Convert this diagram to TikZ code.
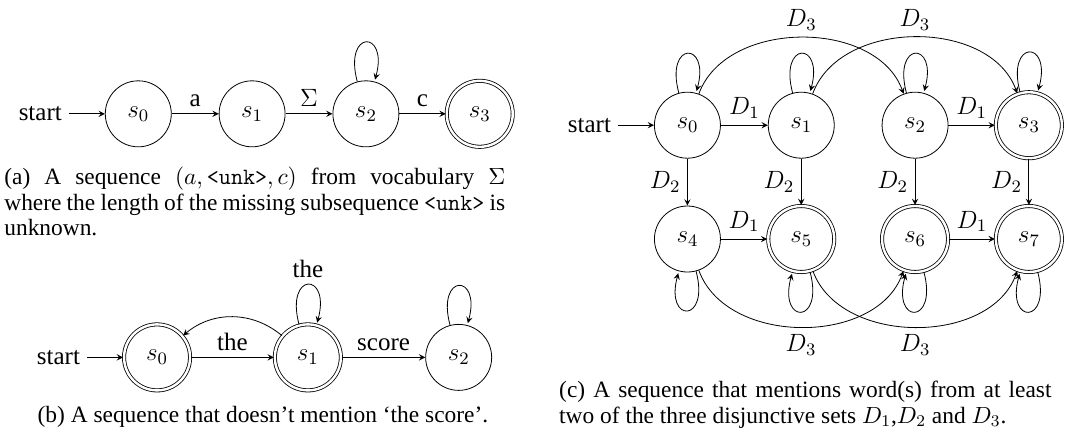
\RequirePackage{fix-cm}
\documentclass[tikz,border=0pt]{standalone}
\usepackage{fontspec}
\setmainfont{Liberation Serif}
\usetikzlibrary{automata,positioning}

\begin{document}
\begin{tikzpicture}[->, >=stealth, auto, on grid, node distance=2cm,
  every node/.style={font=\fontsize{12.5}{15}\selectfont},
  every state/.style={minimum size=33pt, inner sep=0pt},
  accepting/.append style={double distance=1.2pt},
  initial text=start, initial distance=18pt,
  capt/.style={font=\fontsize{11.7}{12.75}\selectfont, inner sep=0pt, anchor=base west, align=justify}]
 \useasboundingbox (0,0) rectangle (18.715,-7.609);

 % (a)
 \node [state, initial] (a0) at (2.43,-2.0) {$s_0$};
 \node [state, right=of a0] (a1) {$s_1$};
 \node [state, right=of a1] (a2) {$s_2$};
 \node [state, accepting, right=of a2] (a3) {$s_3$};
 \path (a0) edge node {a} (a1)
       (a1) edge node {$\Sigma$} (a2)
       (a2) edge [loop above] ()
            edge node {c} (a3);
 \node [capt, text width=8.8cm] (capa) at (0.07,-3.25)
  {(a) A sequence $(a, \texttt{<unk>}, c)$ from vocabulary $\Sigma$ where the length of the missing subsequence \texttt{<unk>} is\linebreak unknown.};

 % (b)
 \node [state, initial, accepting] (b0) at (2.76,-6.28) {$s_0$};
 \node [state, accepting, right=2.65cm of b0] (b1) {$s_1$};
 \node [state, right=2.65cm of b1] (b2) {$s_2$};
 \path (b0) edge node {the} (b1)
       (b1) edge [bend right=40] (b0)
            edge [loop above] node {the} ()
            edge node {score} (b2)
       (b2) edge [loop above] ();
 \node [capt, anchor=base] (capb) at (4.62,-7.43)
  {(b) A sequence that doesn't mention `the score'.};

 % (c)
 \node [state, initial] (c0) at (12.08,-2.2) {$s_0$};
 \node [state, right=of c0] (c1) {$s_1$};
 \node [state, right=of c1] (c2) {$s_2$};
 \node [state, accepting, right=of c2] (c3) {$s_3$};
 \node [state, below=of c0] (c4) {$s_4$};
 \node [state, accepting, right=of c4] (c5) {$s_5$};
 \node [state, accepting, right=of c5] (c6) {$s_6$};
 \node [state, accepting, right=of c6] (c7) {$s_7$};
 \path (c0) edge node {$D_1$} (c1)
            edge node [swap] {$D_2$} (c4)
            edge [loop above] ()
            edge [bend left=70] node {$D_3$} (c2)
       (c1) edge node [swap] {$D_2$} (c5)
            edge [loop above] ()
            edge [bend left=70] node {$D_3$} (c3)
       (c2) edge node {$D_1$} (c3)
            edge node [swap] {$D_2$} (c6)
            edge [loop above] ()
       (c3) edge node [swap] {$D_2$} (c7)
            edge [loop above] ()
       (c4) edge node {$D_1$} (c5)
            edge [loop below] ()
            edge [bend right=70] node [swap] {$D_3$} (c6)
       (c5) edge [loop below] ()
            edge [bend right=70] node [swap] {$D_3$} (c7)
       (c6) edge node {$D_1$} (c7)
            edge [loop below] ()
       (c7) edge [loop below] ();
 \node [capt, text width=8.65cm] (capc) at (9.82,-6.99)
  {(c) A sequence that mentions word(s) from at least two of the three disjunctive sets $D_1$,$D_2$ and $D_3$.};
\end{tikzpicture}
\end{document}
